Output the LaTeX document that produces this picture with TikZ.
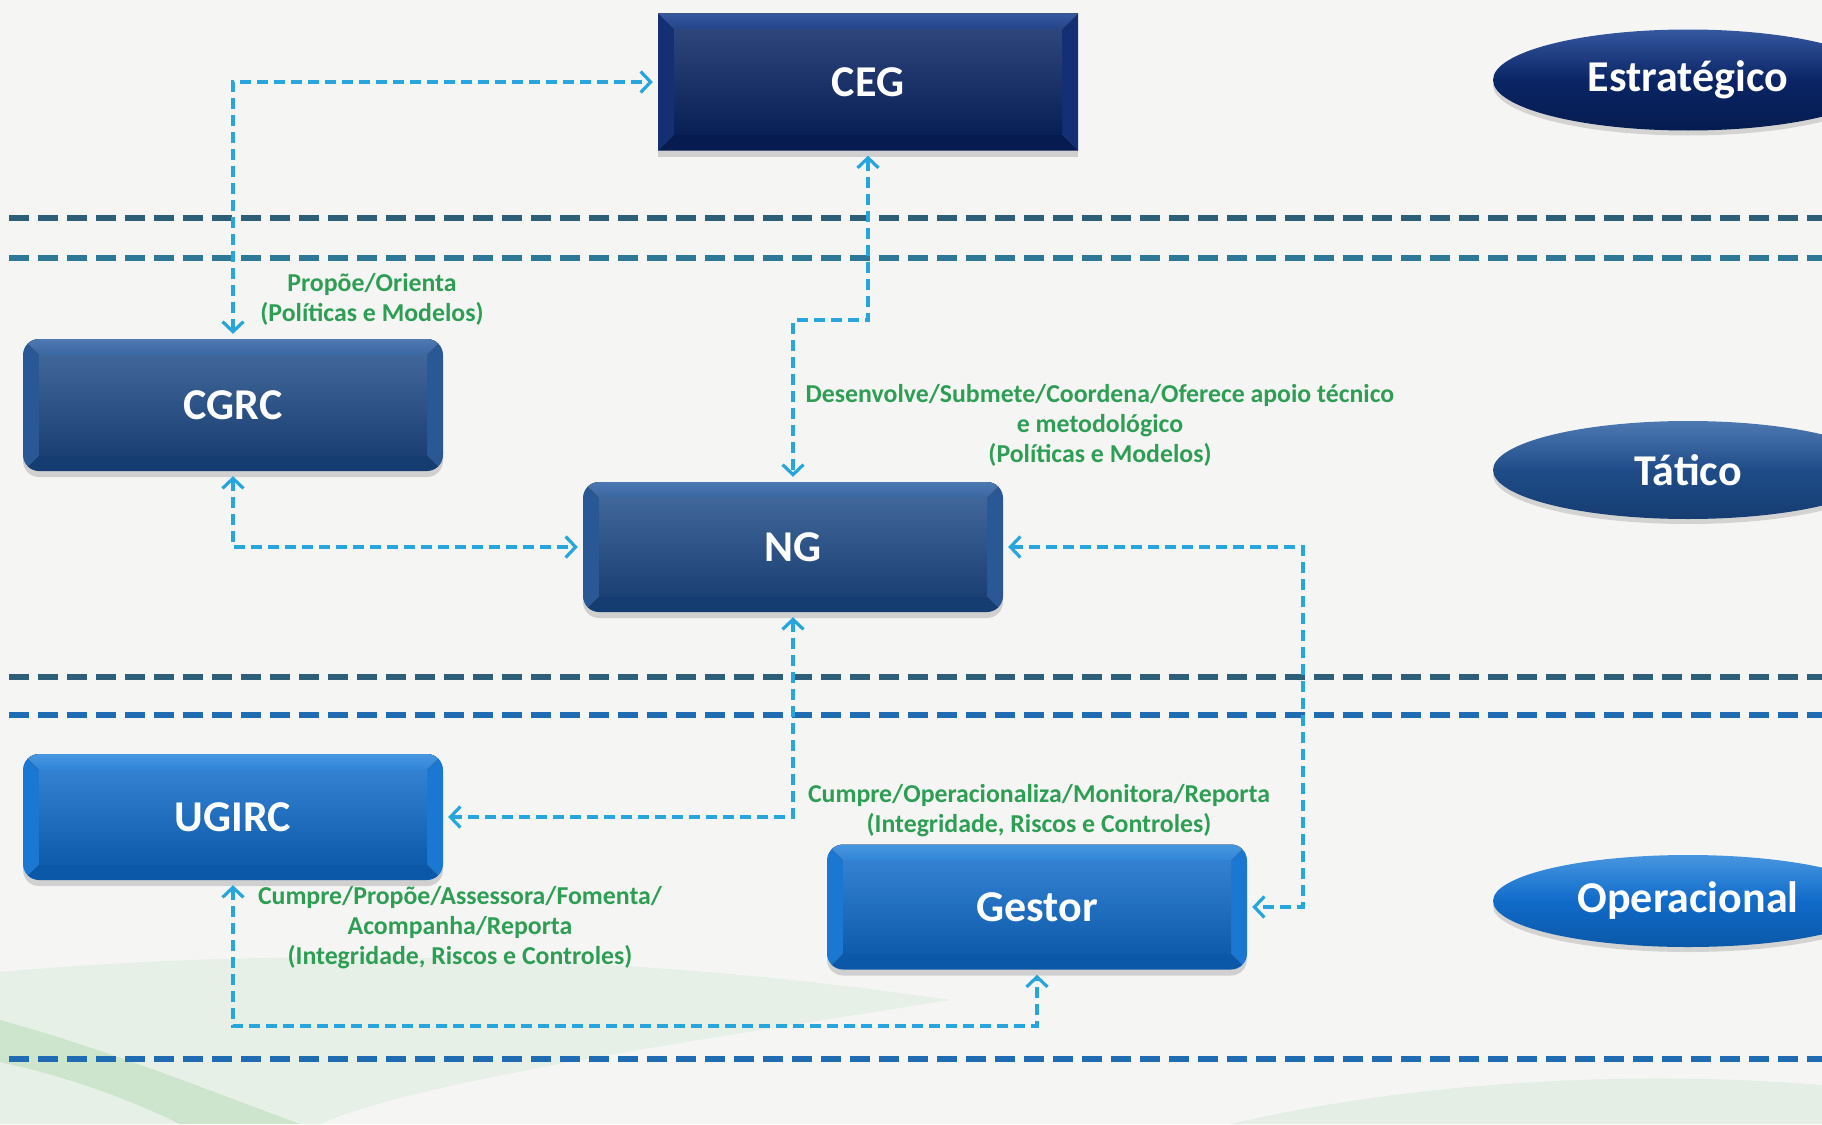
\documentclass[tikz,border=0pt]{standalone}
\usepackage{fontspec}
\setmainfont{Carlito}
\usetikzlibrary{arrows.meta,shapes.geometric,shadows}

\definecolor{paper}{HTML}{F5F6F4}
\definecolor{linkblue}{HTML}{27A6DE}
\definecolor{lblgreen}{HTML}{2F9E55}
\definecolor{sepA}{HTML}{2E5F78}
\definecolor{sepB}{HTML}{2C7896}
\definecolor{sepC}{HTML}{1F6CB2}
% strategic level (dark navy)
\definecolor{estFace}{HTML}{0A2565}
\definecolor{estTop}{HTML}{35589F}
\definecolor{estSide}{HTML}{142F73}
\definecolor{estBot}{HTML}{061C50}
% tactical level (medium navy)
\definecolor{tacFace}{HTML}{1F4C88}
\definecolor{tacTop}{HTML}{4D78B2}
\definecolor{tacSide}{HTML}{2A5894}
\definecolor{tacBot}{HTML}{163D72}
% operational level (bright blue)
\definecolor{opFace}{HTML}{106BC9}
\definecolor{opTop}{HTML}{4796E0}
\definecolor{opSide}{HTML}{1A78D3}
\definecolor{opBot}{HTML}{0B58A8}

% bevelled fill: #1 top, #2 sides, #3 bottom, #4 face, #5 bevel width
\newcommand\bevelfill[5]{%
  \begin{scope}[sharp corners]
  \coordinate (bnw) at (path picture bounding box.north west);
  \coordinate (bne) at (path picture bounding box.north east);
  \coordinate (bsw) at (path picture bounding box.south west);
  \coordinate (bse) at (path picture bounding box.south east);
  \coordinate (inw) at ([shift={(#5,-#5)}]bnw);
  \coordinate (ine) at ([shift={(-#5,-#5)}]bne);
  \coordinate (isw) at ([shift={(#5,#5)}]bsw);
  \coordinate (ise) at ([shift={(-#5,#5)}]bse);
  \fill[#2] (bnw) -- (inw) -- (isw) -- (bsw) -- cycle;
  \fill[#2] (bne) -- (ine) -- (ise) -- (bse) -- cycle;
  \fill[top color=#1, bottom color=#1!60!#4] (bnw) -- (bne) -- (ine) -- (inw) -- cycle;
  \fill[#3] (bsw) -- (bse) -- (ise) -- (isw) -- cycle;
  \fill[top color=#4!85!white, bottom color=#4!85!black] (inw) rectangle (ise);
  \end{scope}
}

\begin{document}
\begin{tikzpicture}[x=1pt,y=-1pt,
  box/.style={rectangle, inner sep=0pt, minimum width=420pt, text=white,
    font=\bfseries\fontsize{44}{50}\selectfont,
    drop shadow={shadow xshift=0pt, shadow yshift=-6pt, opacity=0.22, fill=black!70}},
  estbox/.style={box, minimum height=137pt,
    path picture={\bevelfill{estTop}{estSide}{estBot}{estFace}{16pt}}},
  tacbox/.style={box, rounded corners=16pt,
    path picture={\bevelfill{tacTop}{tacSide}{tacBot}{tacFace}{16pt}}},
  opbox/.style={box, rounded corners=16pt,
    path picture={\bevelfill{opTop}{opSide}{opBot}{opFace}{16pt}}},
  level/.style={ellipse, inner sep=0pt, minimum width=390pt, text=white,
    font=\bfseries\fontsize{44}{50}\selectfont,
    drop shadow={shadow xshift=0pt, shadow yshift=-5pt, opacity=0.2, fill=black!70}},
  lbl/.style={align=center, text=lblgreen, inner sep=0pt,
    font=\bfseries\fontsize{25.8}{30}\selectfont},
  sep/.style={line width=6.5pt, dash pattern=on 20pt off 9pt},
  link/.style={draw=linkblue, line width=3.2pt, dash pattern=on 11pt off 6pt,
    >={Straight Barb[length=10pt,width=21pt]}, <->,
    shorten >=5pt, shorten <=5pt}
]
\useasboundingbox (0,0) rectangle (1822,1124);
\clip (0,0) rectangle (1822,1124);

% paper background with soft green waves at the foot
\fill[paper] (0,0) rectangle (1822,1124);
\fill[green!25!gray!18, opacity=0.7] (0,972) .. controls (300,945) and (650,955) .. (950,1000)
  .. controls (700,1040) and (420,1080) .. (320,1124) -- (0,1124) -- cycle;
\fill[green!35!gray!40, opacity=0.6] (0,1020) .. controls (110,1050) and (220,1095) .. (300,1124)
  -- (180,1124) .. controls (120,1095) and (60,1075) .. (0,1062) -- cycle;
\fill[green!25!gray!20, opacity=0.7] (1230,1124) .. controls (1420,1080) and (1640,1070) .. (1822,1085)
  -- (1822,1124) -- cycle;

% level separators
\draw[sep, sepA] (9,218) -- (1822,218);
\draw[sep, sepB] (9,258) -- (1822,258);
\draw[sep, sepA] (9,677) -- (1822,677);
\draw[sep, sepC] (9,715) -- (1822,715);
\draw[sep, sepC] (9,1059) -- (1822,1059);

% level tags
\node[level, minimum height=101pt, shading=axis, top color=estTop, bottom color=estBot,
  middle color=estFace] (estr) at (1688,80) {Estratégico};
\node[level, minimum height=98pt, shading=axis, top color=tacTop, bottom color=tacBot,
  middle color=tacFace] (tat) at (1688,470) {Tático};
\node[level, minimum height=92pt, shading=axis, top color=opTop, bottom color=opBot,
  middle color=opFace] (oper) at (1688,901) {Operacional};

% bodies
\node[estbox] (ceg) at (868,82) {CEG};
\node[tacbox, minimum height=132pt] (cgrc) at (233,405) {CGRC};
\node[tacbox, minimum height=130pt] (ng) at (793,547) {NG};
\node[opbox, minimum height=126pt] (ugirc) at (233,817) {UGIRC};
\node[opbox, minimum height=125pt] (gestor) at (1037,907) {Gestor};

% relations
\draw[link] (cgrc.north) |- (ceg.west);
\draw[link] (ceg.south) -- (ceg.south |- 0,320) -| (ng.north);
\draw[link] (cgrc.south) |- (ng.west);
\draw[link] (ng.east) -- (ng.east -| 1303,0) |- (gestor.east);
\draw[link] (ng.south) |- (ugirc.east);
\draw[link] (ugirc.south) -- (ugirc.south |- 0,1026) -| (gestor.south);

% relation labels
\node[lbl] (l1) at (372,299) {Propõe/Orienta\\(Políticas e Modelos)};
\node[lbl] (l2) at (1100,425) {Desenvolve/Submete/Coordena/Oferece apoio técnico\\e metodológico\\(Políticas e Modelos)};
\node[lbl] (l3) at (1039,811) {Cumpre/Operacionaliza/Monitora/Reporta\\(Integridade, Riscos e Controles)};
\node[lbl] (l4) at (460,928) {Cumpre/Propõe/Assessora/Fomenta/\\Acompanha/Reporta\\(Integridade, Riscos e Controles)};
\end{tikzpicture}
\end{document}
